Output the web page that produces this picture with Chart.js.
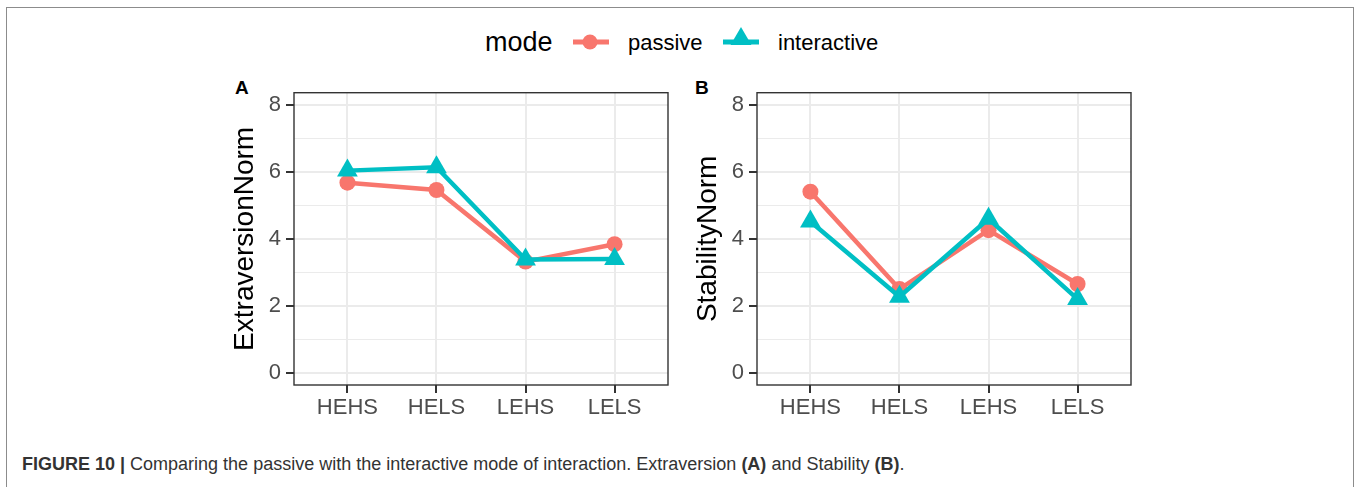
<!DOCTYPE html>
<html>
<head>
<meta charset="utf-8">
<script src="https://cdn.jsdelivr.net/npm/chart.js@4.4.0/dist/chart.umd.min.js"></script>
<style>
  html, body { margin: 0; padding: 0; background: #fff; }
  body { width: 1357px; height: 487px; position: relative; overflow: hidden; font-family: "Liberation Sans", Arial, sans-serif; }
  #frame { position: absolute; left: 6px; top: 7px; width: 1348px; height: 600px; border: 1.5px solid #8c8c8c; box-sizing: border-box; }
  canvas { position: absolute; }
  .lg { position: absolute; white-space: nowrap; line-height: 1; }
  .panel { position: absolute; font-weight: bold; font-size: 19px; color: #000; line-height: 1; }
  #caption { position: absolute; left: 22px; top: 455px; font-size: 18px; line-height: 1.1; color: #333; white-space: nowrap; }
</style>
</head>
<body>
<div id="frame"></div>

<div class="lg" style="left:485px; top:29px; font-size:27px; color:#000;">mode</div>
<svg style="position:absolute; left:560px; top:20px;" width="220" height="44">
  <line x1="13" y1="22" x2="49" y2="22" stroke="#F8766D" stroke-width="5"/>
  <circle cx="30" cy="22" r="7.5" fill="#F8766D"/>
  <line x1="163" y1="22" x2="199" y2="22" stroke="#00BFC4" stroke-width="5"/>
  <polygon points="181,7 191.5,25 170.5,25" fill="#00BFC4"/>
</svg>
<div class="lg" style="left:628px; top:32px; font-size:22px; color:#000;">passive</div>
<div class="lg" style="left:778px; top:32px; font-size:22px; color:#000;">interactive</div>

<div class="panel" style="left:235px; top:78px;">A</div>
<div class="panel" style="left:695px; top:78px;">B</div>

<canvas id="chartA" width="460" height="350" style="left:220px; top:80px;"></canvas>
<canvas id="chartB" width="460" height="350" style="left:683px; top:80px;"></canvas>

<div id="caption"><b>FIGURE 10 |</b> Comparing the passive with the interactive mode of interaction. Extraversion <b>(A)</b> and Stability <b>(B)</b>.</div>

<script>
// ---- data ----
const categories = ["HEHS", "HELS", "LEHS", "LELS"];
const extraversionPassive     = [5.68, 5.46, 3.32, 3.84];
const extraversionInteractive = [6.04, 6.14, 3.38, 3.40];
const stabilityPassive        = [5.41, 2.50, 4.26, 2.65];
const stabilityInteractive    = [4.52, 2.27, 4.60, 2.20];
const yTickValues = [0, 2, 4, 6, 8];

const COL_PASSIVE = "#F8766D";
const COL_INTER = "#00BFC4";
const FONT = "'Liberation Sans', Arial, sans-serif";

const borderPlugin = {
  id: "panelBorder",
  afterDraw(chart) {
    const {ctx, chartArea: a} = chart;
    ctx.save();
    ctx.strokeStyle = "#333333";
    ctx.lineWidth = 1.4;
    ctx.strokeRect(a.left, a.top, a.right - a.left, a.bottom - a.top);
    ctx.restore();
  }
};

function toPoints(arr) { return arr.map((v, i) => ({x: i, y: v})); }

function makeChart(id, title, passive, interactive) {
  return new Chart(document.getElementById(id), {
    type: "line",
    data: {
      datasets: [
        {
          label: "interactive",
          data: toPoints(interactive),
          borderColor: COL_INTER,
          backgroundColor: COL_INTER,
          borderWidth: 4.5,
          pointStyle: "triangle",
          pointRadius: 12,
          pointHoverRadius: 12,
          pointBorderWidth: 0,
          tension: 0,
          order: 0
        },
        {
          label: "passive",
          data: toPoints(passive),
          borderColor: COL_PASSIVE,
          backgroundColor: COL_PASSIVE,
          borderWidth: 4.5,
          pointStyle: "circle",
          pointRadius: 8,
          pointHoverRadius: 8,
          pointBorderWidth: 0,
          tension: 0,
          order: 1
        }
      ]
    },
    options: {
      responsive: false,
      animation: false,
      devicePixelRatio: 1,
      clip: false,
      layout: { padding: { left: 0, right: 12, top: 12.7, bottom: 0 } },
      plugins: { legend: { display: false }, tooltip: { enabled: false } },
      events: [],
      scales: {
        x: {
          type: "linear",
          min: -0.6,
          max: 3.6,
          afterFit: (s) => { s.height = 45; s.paddingLeft = 0; s.paddingRight = 0; },
          border: { display: false },
          grid: {
            color: "#EBEBEB",
            lineWidth: 2,
            tickColor: "#333333",
            tickWidth: 2,
            tickLength: 8
          },
          ticks: {
            stepSize: 1,
            includeBounds: false,
            autoSkip: false,
            maxRotation: 0,
            padding: 2,
            color: "#4D4D4D",
            font: { family: FONT, size: 22 },
            callback: (v) => categories[v] !== undefined ? categories[v] : ""
          }
        },
        y: {
          type: "linear",
          min: -0.37,
          max: 8.37,
          afterFit: (s) => { s.width = 74; s.paddingTop = 0; s.paddingBottom = 0; },
          border: { display: false },
          grid: {
            color: "#EBEBEB",
            lineWidth: (c) => (c.tick && yTickValues.includes(c.tick.value)) ? 2 : 1,
            tickColor: (c) => (c.tick && yTickValues.includes(c.tick.value)) ? "#333333" : "rgba(0,0,0,0)",
            tickWidth: 2,
            tickLength: 8
          },
          ticks: {
            stepSize: 1,
            includeBounds: false,
            autoSkip: false,
            padding: 5,
            color: "#4D4D4D",
            font: { family: FONT, size: 22 },
            callback: (v) => yTickValues.includes(v) ? String(v) : ""
          },
          title: {
            display: true,
            text: title,
            color: "#000000",
            font: { family: FONT, size: 28, lineHeight: 1.2 },
            padding: { top: 8, bottom: 0 }
          }
        }
      }
    },
    plugins: [borderPlugin]
  });
}

makeChart("chartA", "ExtraversionNorm", extraversionPassive, extraversionInteractive);
makeChart("chartB", "StabilityNorm", stabilityPassive, stabilityInteractive);
</script>
</body>
</html>
